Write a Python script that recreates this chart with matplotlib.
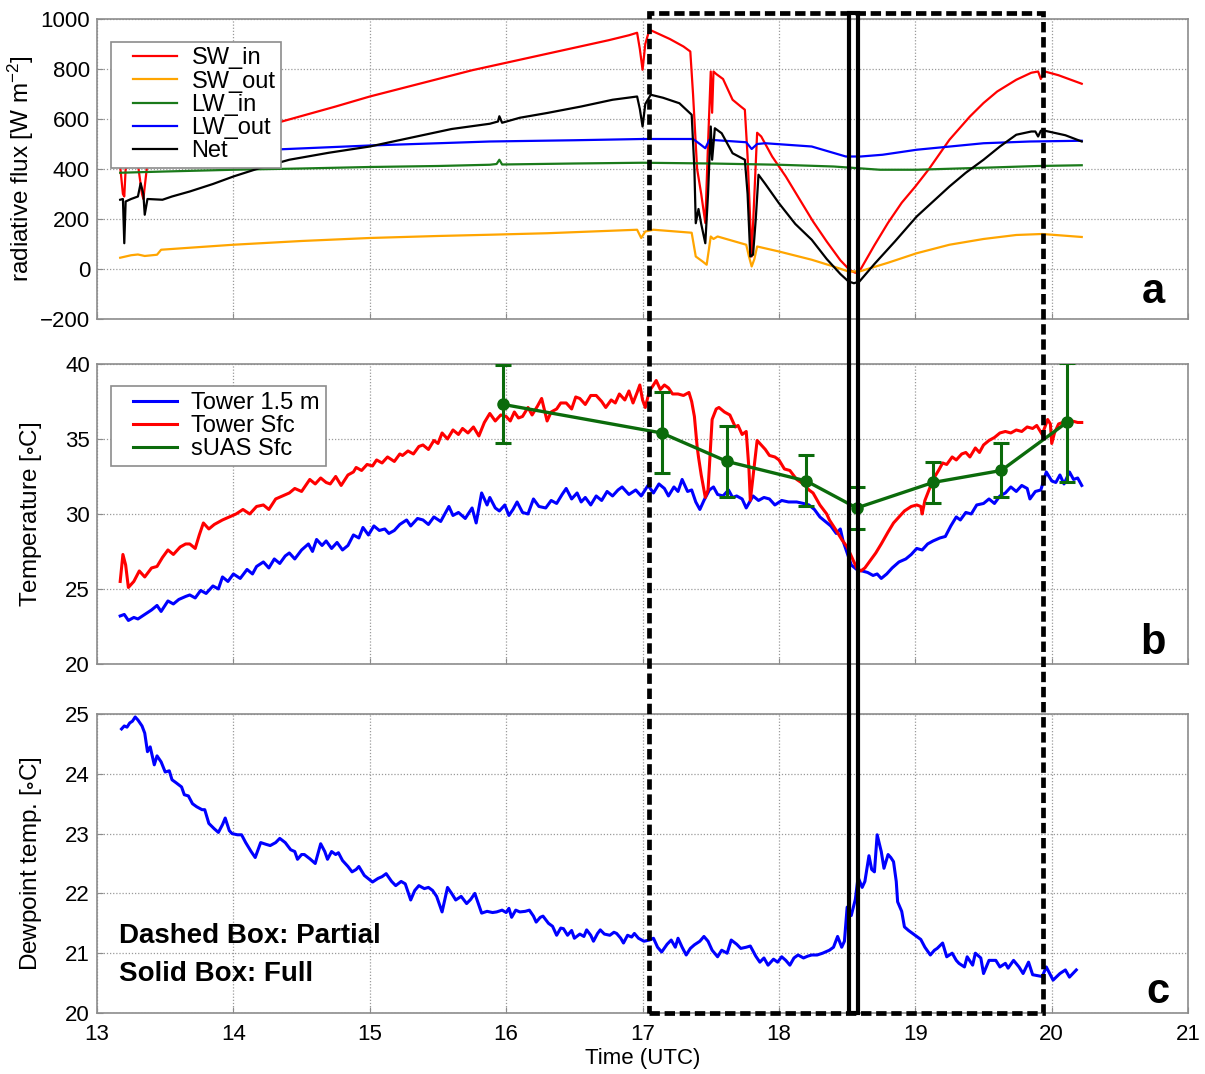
import matplotlib
matplotlib.use("Agg")
import matplotlib.pyplot as plt
from matplotlib.patches import Rectangle
from matplotlib.lines import Line2D
from matplotlib.legend_handler import HandlerLine2D

plt.rcParams["font.family"] = ["Liberation Sans", "DejaVu Sans"]
plt.rcParams["mathtext.default"] = "regular"

# ---------------- panel a: radiative fluxes ----------------
sw_in_t = [13.17, 13.19, 13.20, 13.21, 13.23, 13.30, 13.33, 13.34, 13.35, 13.37, 13.50, 13.75,
           14.0, 14.27, 14.5, 14.75, 15.0, 15.25, 15.5, 15.75, 16.0, 16.25, 16.5, 16.75, 16.90,
           16.96, 16.98, 17.0, 17.02, 17.05, 17.08, 17.2, 17.30, 17.35, 17.37, 17.40, 17.43, 17.46,
           17.48, 17.50, 17.51, 17.52, 17.54, 17.59, 17.66, 17.72, 17.75, 17.77, 17.80, 17.82,
           17.84, 17.87, 17.95, 18.05, 18.15, 18.25, 18.35, 18.45, 18.52, 18.56, 18.60, 18.70,
           18.80, 18.90, 19.0, 19.1, 19.25, 19.4, 19.5, 19.6, 19.74, 19.85, 19.90, 19.92, 19.95,
           20.05, 20.15, 20.22]
sw_in = [410, 300, 290, 400, 412, 418, 300, 280, 330, 425, 440, 480,
         530, 577, 612, 650, 690, 725, 760, 795, 825, 855, 885, 915, 935,
         945, 880, 797, 900, 957, 950, 920, 890, 870, 700, 400, 300, 184,
         500, 790, 625, 790, 780, 760, 677, 650, 637, 450, 50, 300,
         545, 530, 450, 370, 280, 190, 110, 35, -5, -15, 0, 95,
         185, 265, 330, 400, 517, 610, 664, 710, 757, 785, 790, 760, 790,
         775, 755, 741]

sw_out_t = [13.17, 13.25, 13.30, 13.35, 13.44, 13.47, 13.68, 14.0, 14.5, 15.0, 15.5, 15.88,
            16.3, 16.96, 16.99, 17.02, 17.08, 17.36, 17.39, 17.44, 17.47, 17.50, 17.52, 17.55,
            17.76, 17.78, 17.80, 17.82, 17.84, 18.0, 18.24, 18.40, 18.51, 18.59, 18.8, 19.01,
            19.25, 19.5, 19.74, 19.93, 20.22]
sw_out = [45, 55, 58, 52, 57, 77, 85, 97, 112, 124, 132, 137,
          143, 157, 124, 150, 157, 145, 50, 30, 17, 130, 120, 130,
          97, 50, 10, 40, 90, 70, 37, 10, -10, -10, 25, 63,
          97, 120, 136, 140, 128]

lw_in_t = [13.17, 13.5, 14.0, 14.5, 15.0, 15.5, 15.88, 15.93, 15.95, 15.97, 16.5, 17.0, 17.5,
           18.0, 18.4, 18.74, 19.01, 19.5, 19.9, 20.22]
lw_in = [385, 390, 397, 402, 408, 412, 417, 420, 437, 418, 422, 425, 422,
         417, 410, 397, 397, 405, 412, 415]

lw_out_t = [13.17, 13.5, 14.0, 14.27, 15.0, 15.5, 15.88, 16.5, 17.0, 17.37, 17.42, 17.46, 17.49,
            17.76, 17.80, 17.84, 17.9, 18.24, 18.49, 18.6, 18.76, 19.01, 19.5, 19.84, 20.22]
lw_out = [460, 462, 468, 477, 494, 503, 510, 515, 520, 520, 500, 483, 517,
          507, 480, 500, 503, 490, 450, 450, 457, 477, 503, 510, 513]

net_t = [13.17, 13.19, 13.20, 13.21, 13.25, 13.30, 13.32, 13.34, 13.35, 13.37, 13.48, 13.55,
         13.68, 13.85, 14.0, 14.2, 14.41, 14.7, 15.0, 15.3, 15.6, 15.88, 15.94, 15.95, 15.97,
         16.1, 16.3, 16.55, 16.78, 16.96, 16.98, 17.0, 17.02, 17.06, 17.15, 17.27, 17.36, 17.38,
         17.39, 17.41, 17.43, 17.46, 17.48, 17.49, 17.50, 17.51, 17.53, 17.58, 17.66, 17.75,
         17.77, 17.79, 17.81, 17.83, 17.85, 17.90, 18.0, 18.12, 18.24, 18.35, 18.45, 18.51,
         18.55, 18.59, 18.70, 18.85, 19.01, 19.13, 19.25, 19.37, 19.5, 19.62, 19.74, 19.85,
         19.88, 19.90, 19.92, 19.95, 20.1, 20.22]
net = [277, 280, 103, 270, 280, 290, 343, 300, 217, 280, 277, 290,
       310, 340, 370, 405, 437, 465, 490, 525, 560, 581, 590, 611, 585,
       605, 624, 650, 677, 690, 640, 570, 660, 697, 685, 663, 617, 400,
       183, 240, 180, 103, 300, 437, 570, 437, 563, 543, 463, 437,
       300, 50, 57, 200, 377, 340, 263, 180, 117, 40, -20, -50,
       -57, -50, 20, 110, 210, 270, 330, 385, 437, 490, 537, 550,
       550, 530, 553, 553, 535, 510]

# ---------------- panel b: temperatures ----------------
t15_t = [13.17, 13.20, 13.23, 13.27, 13.30, 13.35, 13.40, 13.44, 13.47, 13.52, 13.56, 13.60,
         13.65, 13.68, 13.72, 13.76, 13.80, 13.85, 13.89, 13.92, 13.96, 14.00, 14.05, 14.10,
         14.14, 14.17, 14.22, 14.26, 14.30, 14.34, 14.38, 14.41, 14.45, 14.50, 14.55, 14.58,
         14.61, 14.65, 14.68, 14.72, 14.76, 14.80, 14.84, 14.88, 14.92, 14.95, 14.99, 15.03,
         15.07, 15.11, 15.14, 15.18, 15.22, 15.27, 15.30, 15.35, 15.39, 15.43, 15.47, 15.52,
         15.55, 15.58, 15.61, 15.65, 15.70, 15.75, 15.78, 15.82, 15.86, 15.88, 15.92, 15.95,
         15.99, 16.02, 16.05, 16.08, 16.12, 16.16, 16.20, 16.24, 16.29, 16.33, 16.37, 16.41,
         16.44, 16.48, 16.52, 16.55, 16.58, 16.62, 16.66, 16.70, 16.74, 16.78, 16.82, 16.85,
         16.90, 16.95, 16.99, 17.04, 17.08, 17.12, 17.16, 17.19, 17.23, 17.26, 17.29, 17.33,
         17.36, 17.39, 17.42, 17.45, 17.49, 17.52, 17.55, 17.59, 17.63, 17.66, 17.69, 17.73,
         17.76, 17.81, 17.85, 17.89, 17.93, 17.97, 18.02, 18.07, 18.13, 18.18, 18.22, 18.26,
         18.30, 18.34, 18.38, 18.42, 18.45, 18.47, 18.50, 18.53, 18.57, 18.61, 18.65, 18.69,
         18.72, 18.75, 18.79, 18.83, 18.88, 18.93, 18.97, 19.01, 19.05, 19.09, 19.13, 19.18,
         19.22, 19.26, 19.30, 19.33, 19.37, 19.41, 19.45, 19.50, 19.54, 19.58, 19.62, 19.66,
         19.70, 19.74, 19.78, 19.82, 19.84, 19.88, 19.92, 19.96, 20.00, 20.03, 20.06, 20.09,
         20.13, 20.16, 20.19, 20.22]
t15 = [23.2, 23.3, 22.9, 23.1, 23.0, 23.3, 23.6, 23.9, 23.5, 24.2, 24.0, 24.3,
       24.5, 24.6, 24.4, 24.9, 24.7, 25.2, 25.0, 25.8, 25.5, 26.0, 25.7, 26.3,
       26.0, 26.5, 26.8, 26.4, 27.0, 26.7, 27.2, 27.4, 27.0, 27.6, 28.0, 27.5,
       28.3, 27.9, 28.2, 27.7, 28.1, 27.6, 27.9, 28.6, 28.4, 29.1, 28.6, 29.2,
       28.9, 29.0, 28.7, 28.9, 29.3, 29.6, 29.2, 29.7, 29.6, 29.3, 29.8, 29.5,
       30.0, 30.5, 29.9, 30.1, 29.7, 30.4, 29.4, 31.4, 30.6, 31.1, 30.4, 30.2,
       30.6, 29.9, 30.3, 30.8, 30.1, 30.0, 31.0, 30.5, 30.4, 30.9, 30.7, 31.3,
       31.7, 31.0, 31.4, 30.8, 31.1, 30.6, 31.2, 30.9, 31.5, 31.2, 31.6, 31.8,
       31.3, 31.6, 31.2, 31.9, 31.4, 32.0, 31.7, 31.2, 31.8, 31.5, 32.3, 31.5,
       31.6, 30.8, 30.3, 30.9, 31.6, 31.8, 31.3, 31.2, 31.6, 31.1, 31.2, 31.0,
       30.4, 31.2, 30.9, 31.1, 31.0, 30.6, 30.9, 30.8, 30.8, 30.7, 30.6, 30.3,
       29.8, 29.5, 29.2, 28.7, 29.0, 28.2, 27.4, 26.6, 26.3, 26.2, 26.1, 25.9,
       26.0, 25.7, 26.0, 26.4, 26.8, 27.0, 27.3, 27.7, 27.6, 28.0, 28.2, 28.4,
       28.5, 29.2, 29.8, 29.6, 30.1, 30.0, 30.6, 30.7, 31.0, 30.7, 31.2, 31.4,
       31.8, 31.5, 31.9, 31.7, 31.0, 31.5, 31.6, 32.8, 32.2, 32.1, 32.6, 32.0,
       32.8, 32.3, 32.4, 31.9]

tsfc_t = [13.17, 13.19, 13.21, 13.23, 13.27, 13.31, 13.35, 13.40, 13.44, 13.48, 13.52, 13.56,
          13.61, 13.65, 13.68, 13.72, 13.75, 13.78, 13.82, 13.86, 13.92, 13.97, 14.02, 14.07,
          14.12, 14.17, 14.22, 14.26, 14.31, 14.36, 14.41, 14.45, 14.50, 14.53, 14.56, 14.60,
          14.64, 14.68, 14.71, 14.75, 14.79, 14.84, 14.88, 14.90, 14.94, 14.98, 15.02, 15.05,
          15.09, 15.13, 15.18, 15.22, 15.24, 15.28, 15.32, 15.36, 15.39, 15.43, 15.47, 15.50,
          15.53, 15.57, 15.61, 15.65, 15.68, 15.72, 15.76, 15.80, 15.84, 15.88, 15.92, 15.96,
          16.00, 16.03, 16.06, 16.09, 16.12, 16.16, 16.19, 16.23, 16.26, 16.30, 16.33, 16.37,
          16.40, 16.44, 16.48, 16.51, 16.54, 16.58, 16.62, 16.66, 16.70, 16.73, 16.77, 16.80,
          16.83, 16.87, 16.90, 16.93, 16.96, 16.98, 17.00, 17.02, 17.05, 17.08, 17.10, 17.13,
          17.16, 17.19, 17.22, 17.26, 17.30, 17.34, 17.36, 17.38, 17.40, 17.41, 17.43, 17.46,
          17.48, 17.49, 17.51, 17.54, 17.56, 17.60, 17.64, 17.68, 17.70, 17.73, 17.76, 17.78,
          17.79, 17.81, 17.84, 17.86, 17.90, 17.93, 17.97, 18.00, 18.04, 18.08, 18.13, 18.18,
          18.22, 18.25, 18.30, 18.35, 18.37, 18.42, 18.46, 18.50, 18.54, 18.57, 18.60, 18.63,
          18.67, 18.71, 18.75, 18.80, 18.84, 18.88, 18.92, 18.97, 19.01, 19.04, 19.05, 19.07,
          19.10, 19.13, 19.17, 19.20, 19.23, 19.27, 19.30, 19.34, 19.37, 19.40, 19.44, 19.47,
          19.50, 19.54, 19.58, 19.62, 19.66, 19.70, 19.74, 19.78, 19.82, 19.86, 19.89, 19.93,
          19.97, 19.99, 20.00, 20.02, 20.05, 20.08, 20.12, 20.15, 20.19, 20.22]
tsfc = [25.5, 27.3, 26.6, 25.1, 25.5, 26.2, 25.8, 26.4, 26.5, 27.1, 27.6, 27.3,
        27.8, 28.0, 28.0, 27.7, 28.6, 29.4, 29.0, 29.3, 29.6, 29.8, 30.0, 30.3,
        30.0, 30.5, 30.6, 30.3, 31.0, 31.2, 31.4, 31.7, 31.5, 31.9, 32.3, 32.0,
        32.4, 32.1, 32.0, 32.5, 31.9, 32.6, 32.8, 33.1, 32.9, 33.3, 33.2, 33.6,
        33.4, 33.8, 33.5, 34.0, 33.9, 34.2, 34.0, 34.5, 34.6, 34.3, 34.9, 34.7,
        35.4, 35.0, 35.6, 35.3, 35.7, 35.4, 35.8, 35.2, 36.1, 36.7, 36.2, 36.6,
        36.5, 36.2, 36.8, 36.4, 36.5, 37.1, 36.6, 37.2, 37.7, 36.2, 36.8, 37.0,
        37.4, 37.4, 37.0, 37.8, 37.7, 37.3, 37.9, 37.9, 37.5, 37.1, 37.6, 37.4,
        38.0, 37.6, 38.2, 37.4, 38.1, 38.6, 37.6, 37.1, 38.2, 38.6, 38.9, 38.3,
        38.6, 38.4, 38.0, 38.0, 37.9, 38.1, 37.5, 36.5, 34.5, 33.8, 32.6, 31.1,
        31.6, 33.2, 36.3, 37.0, 37.1, 36.8, 36.6, 35.8, 35.9, 35.3, 35.5, 33.0,
        30.9, 32.5, 34.9, 34.7, 34.3, 33.9, 33.8, 33.6, 33.0, 32.9, 32.3, 32.0,
        31.6, 31.4, 30.6, 30.0, 29.6, 28.9, 28.3, 27.8, 27.0, 26.4, 26.2, 26.4,
        26.9, 27.4, 28.0, 28.8, 29.4, 29.8, 30.2, 30.5, 30.6, 30.5, 30.0, 30.9,
        31.6, 32.3, 32.9, 33.4, 33.3, 33.8, 33.6, 34.0, 34.1, 33.8, 34.4, 34.1,
        34.6, 34.9, 35.1, 35.4, 35.5, 35.4, 35.6, 35.5, 35.8, 35.7, 35.9, 35.3,
        36.3, 36.0, 34.7, 35.4, 36.0, 36.1, 35.9, 36.2, 36.1, 36.1]

suas_t = [15.98, 17.14, 17.62, 18.20, 18.57, 19.13, 19.63, 20.11]
suas = [37.3, 35.4, 33.5, 32.2, 30.4, 32.1, 32.9, 36.1]
suas_err = [2.6, 2.7, 2.35, 1.7, 1.4, 1.35, 1.8, 3.95]

# ---------------- panel c: dewpoint ----------------
td_t = [13.18, 13.20, 13.22, 13.24, 13.26, 13.28, 13.30, 13.33, 13.35, 13.37, 13.39, 13.42,
        13.44, 13.47, 13.50, 13.53, 13.55, 13.58, 13.62, 13.64, 13.67, 13.70, 13.73, 13.77,
        13.79, 13.82, 13.86, 13.89, 13.92, 13.94, 13.97, 13.99, 14.03, 14.06, 14.09, 14.13,
        14.16, 14.20, 14.24, 14.27, 14.31, 14.34, 14.38, 14.42, 14.45, 14.47, 14.50, 14.52,
        14.56, 14.60, 14.64, 14.67, 14.69, 14.72, 14.75, 14.77, 14.80, 14.84, 14.87, 14.90,
        14.92, 14.96, 15.02, 15.06, 15.09, 15.12, 15.16, 15.19, 15.23, 15.26, 15.30, 15.33,
        15.36, 15.40, 15.43, 15.46, 15.49, 15.53, 15.57, 15.60, 15.63, 15.67, 15.71, 15.74,
        15.77, 15.80, 15.82, 15.86, 15.90, 15.93, 15.97, 16.00, 16.02, 16.04, 16.07, 16.10,
        16.14, 16.17, 16.20, 16.22, 16.25, 16.27, 16.31, 16.34, 16.37, 16.40, 16.42, 16.45,
        16.48, 16.50, 16.54, 16.57, 16.59, 16.62, 16.64, 16.67, 16.69, 16.72, 16.76, 16.79,
        16.81, 16.84, 16.86, 16.89, 16.92, 16.94, 16.97, 17.01, 17.05, 17.08, 17.11, 17.14,
        17.18, 17.21, 17.24, 17.26, 17.29, 17.32, 17.35, 17.38, 17.42, 17.45, 17.48, 17.51,
        17.55, 17.58, 17.62, 17.65, 17.69, 17.72, 17.76, 17.79, 17.83, 17.86, 17.89, 17.92,
        17.96, 17.99, 18.02, 18.05, 18.08, 18.11, 18.14, 18.18, 18.21, 18.24, 18.28, 18.32,
        18.37, 18.40, 18.43, 18.46, 18.48, 18.50, 18.53, 18.56, 18.58, 18.61, 18.63, 18.66,
        18.68, 18.70, 18.72, 18.75, 18.77, 18.80, 18.82, 18.84, 18.86, 18.87, 18.90, 18.92,
        18.95, 18.98, 19.01, 19.04, 19.07, 19.11, 19.14, 19.16, 19.20, 19.23, 19.27, 19.30,
        19.32, 19.36, 19.38, 19.42, 19.44, 19.48, 19.50, 19.54, 19.59, 19.62, 19.66, 19.68,
        19.72, 19.76, 19.79, 19.83, 19.86, 19.93, 19.96, 20.01, 20.06, 20.10, 20.13, 20.18]
td = [24.75, 24.80, 24.78, 24.85, 24.88, 24.95, 24.90, 24.80, 24.68, 24.37, 24.45, 24.15,
      24.30, 24.20, 24.03, 24.05, 23.90, 23.85, 23.78, 23.65, 23.63, 23.50, 23.45, 23.40,
      23.40, 23.17, 23.08, 23.02, 23.15, 23.26, 23.05, 23.00, 22.98, 22.98, 22.85, 22.70,
      22.60, 22.85, 22.82, 22.80, 22.85, 22.92, 22.85, 22.73, 22.70, 22.57, 22.65, 22.65,
      22.58, 22.50, 22.83, 22.70, 22.57, 22.70, 22.65, 22.68, 22.55, 22.45, 22.36, 22.40,
      22.45, 22.30, 22.19, 22.25, 22.28, 22.33, 22.20, 22.13, 22.20, 22.16, 21.89, 22.05,
      22.13, 22.08, 22.10, 22.05, 21.95, 21.69, 22.10, 22.00, 21.89, 21.95, 21.83, 21.90,
      22.00, 21.80, 21.67, 21.70, 21.68, 21.69, 21.72, 21.68, 21.75, 21.60, 21.72, 21.69,
      21.70, 21.72, 21.62, 21.52, 21.60, 21.62, 21.50, 21.45, 21.30, 21.42, 21.41, 21.30,
      21.38, 21.25, 21.32, 21.28, 21.39, 21.30, 21.20, 21.33, 21.39, 21.32, 21.30, 21.35,
      21.33, 21.25, 21.17, 21.30, 21.27, 21.33, 21.25, 21.20, 21.22, 21.25, 21.10, 21.02,
      21.15, 21.22, 21.10, 21.25, 21.10, 20.97, 21.08, 21.14, 21.20, 21.28, 21.20, 21.05,
      20.94, 21.05, 21.00, 21.22, 21.15, 21.08, 21.10, 21.12, 20.95, 20.85, 20.92, 20.80,
      20.90, 20.85, 20.94, 20.88, 20.80, 20.92, 20.97, 20.92, 20.95, 20.97, 20.97, 21.00,
      21.05, 21.10, 21.28, 21.10, 21.20, 21.77, 21.63, 21.90, 22.27, 22.10, 22.20, 22.63,
      22.40, 22.36, 22.98, 22.70, 22.42, 22.65, 22.60, 22.53, 22.20, 21.86, 21.70, 21.44,
      21.38, 21.33, 21.28, 21.23, 21.10, 20.97, 21.05, 21.08, 21.17, 20.94, 21.00, 20.88,
      20.83, 20.77, 20.94, 20.80, 21.00, 20.92, 20.66, 20.88, 20.88, 20.77, 20.83, 20.75,
      20.88, 20.77, 20.66, 20.85, 20.64, 20.61, 20.77, 20.55, 20.66, 20.72, 20.60, 20.72]

# sampling windows (hours UTC)
partial_window = (17.05, 19.935)
full_window = (18.513, 18.579)


class IndentedLine(HandlerLine2D):
    # legend line that starts a bit inside the handle box (MATLAB-like look)
    def create_artists(self, legend, orig_handle, xdescent, ydescent, width, height,
                       fontsize, trans):
        y = height / 2 - ydescent
        line = Line2D([-xdescent + 0.27 * width, -xdescent + width], [y, y])
        self.update_prop(line, orig_handle, legend)
        line.set_transform(trans)
        return [line]


# ---------------- figure ----------------
fig = plt.figure(figsize=(12.05, 10.74), dpi=100)
left, width = 0.0805, 0.9055
ax_a = fig.add_axes([left, 0.703, width, 0.2793])
ax_b = fig.add_axes([left, 0.3818, width, 0.2793])
ax_c = fig.add_axes([left, 0.0568, width, 0.2784])

spine_col = "#8c8c8c"
for ax in (ax_a, ax_b, ax_c):
    ax.set_xlim(13, 21)
    ax.set_xticks(range(13, 22))
    ax.grid(True, linestyle=(0, (1, 1.5)), color="#9a9a9a", linewidth=0.9)
    ax.tick_params(direction="in", length=4, color=spine_col, labelsize=16, pad=5)
    ax.tick_params(axis="x", pad=8)
    for s in ax.spines.values():
        s.set_color(spine_col)
        s.set_linewidth(1.2)

ax_a.tick_params(labelbottom=False)
ax_b.tick_params(labelbottom=False)

leg_kw = dict(loc="upper left", fontsize=17, frameon=True, fancybox=False, framealpha=1,
              edgecolor=spine_col, handlelength=2.55, labelspacing=0.05, borderpad=0.25,
              handletextpad=0.6, borderaxespad=0,
              handler_map={Line2D: IndentedLine()})

# panel a
ax_a.plot(sw_in_t, sw_in, color="#ff0000", lw=1.6, label="SW_in")
ax_a.plot(sw_out_t, sw_out, color="#ffa500", lw=1.6, label="SW_out")
ax_a.plot(lw_in_t, lw_in, color="#1a7a1a", lw=1.6, label="LW_in")
ax_a.plot(lw_out_t, lw_out, color="#0000ff", lw=1.6, label="LW_out")
ax_a.plot(net_t, net, color="black", lw=1.6, label="Net")
ax_a.set_ylim(-200, 1000)
ax_a.set_yticks(range(-200, 1001, 200))
ax_a.set_ylabel("radiative flux [W m$^{-2}$]", fontsize=17.5, labelpad=3)
leg = ax_a.legend(bbox_to_anchor=(0.013, 0.925), **leg_kw)
leg.get_frame().set_linewidth(1.2)
ax_a.text(0.968, 0.09, "a", transform=ax_a.transAxes, fontsize=30,
          fontweight="bold", ha="center", va="center")

# panel b
ax_b.plot(t15_t, t15, color="#0000ff", lw=2.2)
ax_b.plot(tsfc_t, tsfc, color="#ff0000", lw=2.2)
ax_b.errorbar(suas_t, suas, yerr=suas_err, color="#0b6b0b", lw=2.4, marker="o",
              markersize=8, capsize=6, capthick=2.2, elinewidth=2.2, zorder=5)
ax_b.set_ylim(20, 40)
ax_b.set_yticks(range(20, 41, 5))
ax_b.set_ylabel("Temperature [$\\circ$C]", fontsize=17.5, labelpad=15)
handles_b = [Line2D([], [], color="#0000ff", lw=2.2),
             Line2D([], [], color="#ff0000", lw=2.2),
             Line2D([], [], color="#0b6b0b", lw=2.2)]
leg_b = ax_b.legend(handles_b, ["Tower 1.5 m", "Tower Sfc", "sUAS Sfc"],
                    bbox_to_anchor=(0.013, 0.927), **leg_kw)
leg_b.get_frame().set_linewidth(1.2)
ax_b.text(0.968, 0.07, "b", transform=ax_b.transAxes, fontsize=30,
          fontweight="bold", ha="center", va="center")

# panel c
ax_c.plot(td_t, td, color="#0000ff", lw=2.2)
ax_c.set_ylim(20, 25)
ax_c.set_yticks(range(20, 26))
ax_c.set_ylabel("Dewpoint temp. [$\\circ$C]", fontsize=17.5, labelpad=15)
ax_c.set_xlabel("Time (UTC)", fontsize=16, labelpad=2)
ax_c.text(0.02, 0.257, "Dashed Box: Partial", transform=ax_c.transAxes, fontsize=20,
          fontweight="bold", ha="left", va="center")
ax_c.text(0.02, 0.13, "Solid Box: Full", transform=ax_c.transAxes, fontsize=20,
          fontweight="bold", ha="left", va="center")
ax_c.text(0.972, 0.07, "c", transform=ax_c.transAxes, fontsize=30,
          fontweight="bold", ha="center", va="center")

# overlay for the sampling boxes spanning all panels
ov = fig.add_axes([left, 0.0568, width, 0.988 - 0.0568], zorder=10)
ov.set_xlim(13, 21)
ov.set_ylim(0, 1)
ov.axis("off")
ov.patch.set_alpha(0)
ov.add_patch(Rectangle((partial_window[0], 0), partial_window[1] - partial_window[0], 1,
                       fill=False, edgecolor="black", lw=3.4,
                       linestyle=(0, (2.2, 1.0)), clip_on=False))
ov.add_patch(Rectangle((full_window[0], 0), full_window[1] - full_window[0], 1,
                       fill=False, edgecolor="black", lw=3.0, clip_on=False))

fig.savefig("out.png", dpi=100)
